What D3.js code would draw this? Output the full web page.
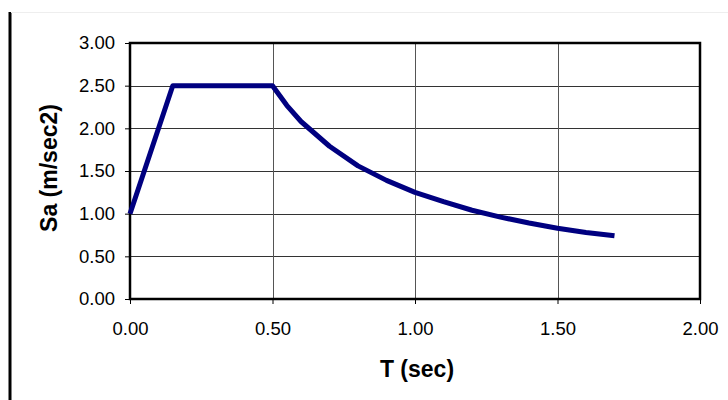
<!DOCTYPE html>
<html>
<head>
<meta charset="utf-8">
<script src="https://cdn.jsdelivr.net/npm/d3@7"></script>
<style>
  body { margin: 0; background: #fff; }
  text { font-family: "Liberation Sans", Arial, sans-serif; fill: #000; }
</style>
</head>
<body>
<div id="chart"></div>
<script>
// spectrum points (period T in sec, Sa in m/sec2)
var periods = [0.00, 0.15, 0.50, 0.55, 0.60, 0.70, 0.80, 0.90, 1.00, 1.10, 1.20, 1.30, 1.40, 1.50, 1.60, 1.70];
var accels  = [1.00, 2.50, 2.50, 2.27, 2.08, 1.79, 1.56, 1.39, 1.25, 1.14, 1.04, 0.96, 0.89, 0.83, 0.78, 0.74];
var xTicks = [0, 0.5, 1.0, 1.5, 2.0];
var yTicks = [0, 0.5, 1.0, 1.5, 2.0, 2.5, 3.0];
var xLabel = "T (sec)";
var yLabel = "Sa (m/sec2)";

var width = 728, height = 400;
var margin = {top: 43, right: 28, bottom: 101, left: 130};

var svg = d3.select("#chart").append("svg")
    .attr("width", width)
    .attr("height", height);

// outer frame bits
svg.append("line")
    .attr("x1", 10).attr("x2", 10)
    .attr("y1", 12).attr("y2", height)
    .attr("stroke", "#000").attr("stroke-width", 3);
svg.append("line")
    .attr("x1", 11).attr("x2", width)
    .attr("y1", 12.5).attr("y2", 12.5)
    .attr("stroke", "#eee").attr("stroke-width", 1);

var x = d3.scaleLinear().domain([0, 2]).range([margin.left, width - margin.right]);
var y = d3.scaleLinear().domain([0, 3]).range([height - margin.bottom, margin.top]);

// gridlines
svg.selectAll("line.hgrid").data(yTicks).enter().append("line")
    .attr("class", "hgrid")
    .attr("x1", x(0)).attr("x2", x(2))
    .attr("y1", function(d) { return Math.round(y(d)) + 0.5; })
    .attr("y2", function(d) { return Math.round(y(d)) + 0.5; })
    .attr("stroke", "#333").attr("stroke-width", 1);
svg.selectAll("line.vgrid").data(xTicks).enter().append("line")
    .attr("class", "vgrid")
    .attr("x1", function(d) { return Math.round(x(d)) + 0.5; })
    .attr("x2", function(d) { return Math.round(x(d)) + 0.5; })
    .attr("y1", y(3)).attr("y2", y(0))
    .attr("stroke", "#555").attr("stroke-width", 1);

// axes
var yAxis = d3.axisLeft(y).tickValues(yTicks).tickSize(5).tickPadding(10)
    .tickFormat(d3.format(".2f"));
var xAxis = d3.axisBottom(x).tickValues(xTicks).tickSize(5).tickPadding(18)
    .tickFormat(d3.format(".2f"));

var gy = svg.append("g").attr("transform", "translate(" + x(0) + ",0)").call(yAxis);
var gx = svg.append("g").attr("transform", "translate(0," + y(0) + ")").call(xAxis);
[gy, gx].forEach(function(g) {
    g.select(".domain").remove();
    g.selectAll(".tick line").attr("stroke", "#000");
    g.selectAll("text").style("font-size", "18.5px").attr("fill", "#111");
});

// plot border
svg.append("rect")
    .attr("x", x(0)).attr("y", y(3))
    .attr("width", x(2) - x(0)).attr("height", y(0) - y(3))
    .attr("fill", "none").attr("stroke", "#000").attr("stroke-width", 2.5);

// curve
var line = d3.line()
    .x(function(d, i) { return x(periods[i]); })
    .y(function(d) { return y(d); });
svg.append("path")
    .datum(accels)
    .attr("d", line)
    .attr("fill", "none")
    .attr("stroke", "#000080")
    .attr("stroke-width", 5)
    .attr("stroke-linejoin", "round");

// axis titles
svg.append("text")
    .attr("x", (x(0) + x(2)) / 2 + 2)
    .attr("y", 377)
    .attr("text-anchor", "middle")
    .style("font-size", "23px")
    .style("font-weight", "bold")
    .text(xLabel);
svg.append("text")
    .attr("transform", "translate(57,168) rotate(-90)")
    .attr("text-anchor", "middle")
    .style("font-size", "23px")
    .style("font-weight", "bold")
    .text(yLabel);
</script>
</body>
</html>
